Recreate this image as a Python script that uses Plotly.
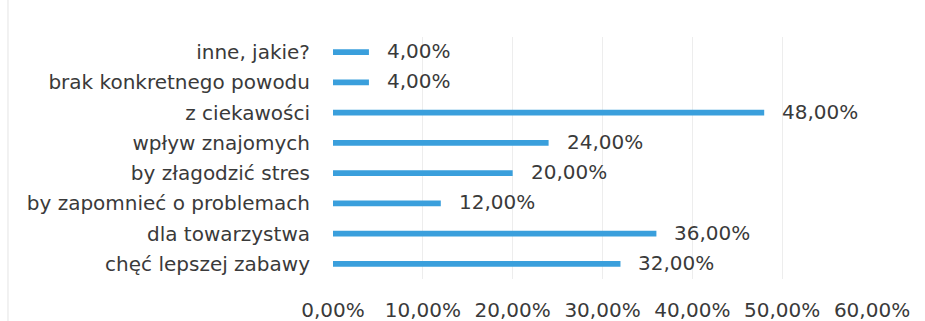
import plotly.graph_objects as go

# Reasons (bottom to top as drawn on the y axis)
categories = [
    "chęć lepszej zabawy",
    "dla towarzystwa",
    "by zapomnieć o problemach",
    "by złagodzić stres",
    "wpływ znajomych",
    "z ciekawości",
    "brak konkretnego powodu",
    "inne, jakie?",
]
shares = [0.32, 0.36, 0.12, 0.20, 0.24, 0.48, 0.04, 0.04]
x_ticks = [0, 0.1, 0.2, 0.3, 0.4, 0.5, 0.6]

BAR_COLOR = "#3a9fdc"
TEXT_COLOR = "#3a3a3a"
FONT = "DejaVu Sans"
FONT_SIZE = 20

fig = go.Figure(
    go.Bar(
        x=shares,
        y=categories,
        orientation="h",
        marker=dict(color=BAR_COLOR, line=dict(width=0)),
        width=0.19,
        hoverinfo="skip",
    )
)

# Value labels to the right of each bar
for cat, val in zip(categories, shares):
    fig.add_annotation(
        x=val, y=cat, xref="x", yref="y",
        text=f"{val * 100:.2f}%".replace(".", ","),
        showarrow=False, xanchor="left", xshift=16, yshift=1,
        font=dict(family=FONT, size=FONT_SIZE, color=TEXT_COLOR),
    )

# Faint frame line on the left edge
fig.add_shape(
    type="line", xref="paper", yref="paper",
    x0=-0.603, x1=-0.603, y0=-0.3, y1=1.2,
    line=dict(color="#e4e4e4", width=1),
)

fig.update_layout(
    width=925, height=321,
    margin=dict(l=333, r=53, t=37, b=42),
    paper_bgcolor="white",
    plot_bgcolor="white",
    separators=", ",
    showlegend=False,
    font=dict(family=FONT, size=FONT_SIZE, color=TEXT_COLOR),
    xaxis=dict(
        range=[0, 0.6],
        tickvals=x_ticks,
        tickformat=".2%",
        showgrid=True,
        gridcolor="#ededed",
        gridwidth=1,
        zeroline=False,
        showline=False,
        ticks="",
        automargin=False,
        ticklabelstandoff=17,
        tickfont=dict(family=FONT, size=FONT_SIZE, color=TEXT_COLOR),
    ),
    yaxis=dict(
        showgrid=False,
        zeroline=False,
        showline=False,
        ticks="",
        automargin=False,
        ticklabelstandoff=22,
        tickfont=dict(family=FONT, size=FONT_SIZE, color=TEXT_COLOR),
    ),
)

fig.write_html("out.html")
